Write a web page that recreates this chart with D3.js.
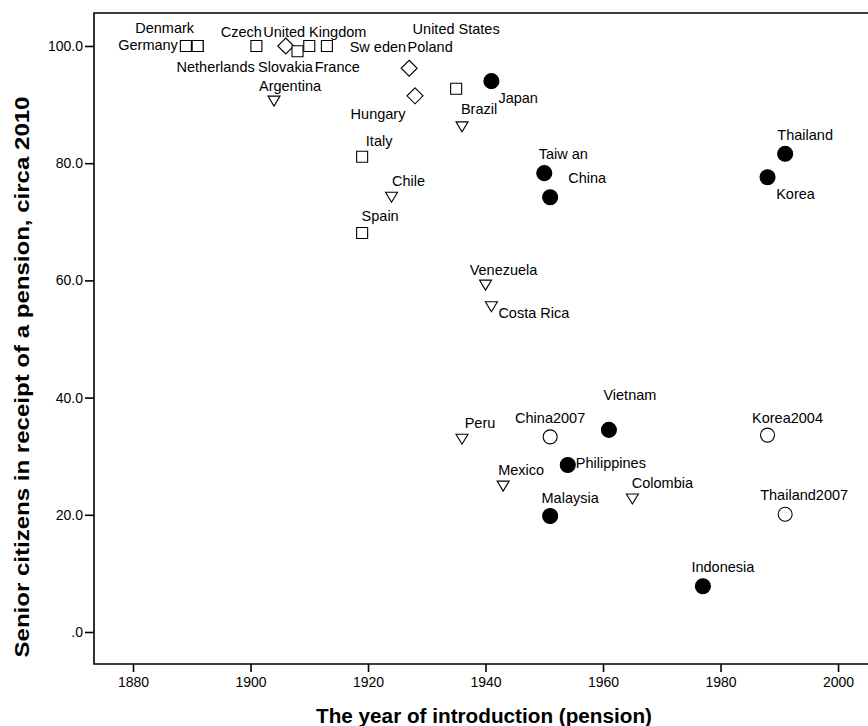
<!DOCTYPE html>
<html>
<head>
<meta charset="utf-8">
<script src="https://cdn.jsdelivr.net/npm/d3@7"></script>
<style>
  html, body { margin: 0; padding: 0; background: #fff; }
  svg { display: block; }
  text { font-family: "Liberation Sans", Arial, sans-serif; fill: #000; }
</style>
</head>
<body>
<svg id="chart" width="868" height="726"></svg>
<script>
// Pension coverage vs. year the pension was introduced
const countries = ["Germany","Denmark","Netherlands","Czech","United Kingdom","Slovakia","France","Sw eden",
  "Poland","Hungary","United States","Japan","Argentina","Brazil","Italy","Chile","Spain",
  "Taiw an","China","Thailand","Korea","Venezuela","Costa Rica","Vietnam","Peru","China2007",
  "Korea2004","Philippines","Mexico","Colombia","Malaysia","Thailand2007","Indonesia"];
const years = [1889,1891,1891,1901,1906,1908,1910,1913,
  1927,1928,1935,1941,1904,1936,1919,1924,1919,
  1950,1951,1991,1988,1940,1941,1961,1936,1951,
  1988,1954,1943,1965,1951,1991,1977];
const coverage = [100,100,100,100,100,99.1,100,100,
  96.2,91.5,92.7,94.0,90.6,86.2,81.1,74.2,68.1,
  78.3,74.2,81.6,77.6,59.2,55.5,34.5,32.9,33.3,
  33.6,28.5,24.9,22.7,19.8,20.1,7.8];
const groups = ["west","west","west","west","east","west","west","west",
  "east","east","west","asia","latam","latam","west","latam","west",
  "asia","asia","asia","asia","latam","latam","asia","latam","asiaOld",
  "asiaOld","asia","latam","latam","asia","asiaOld","asia"];
const xTicks = [1880,1900,1920,1940,1960,1980,2000];
const yTicks = [0,20,40,60,80,100];

// label offsets from each marker (px) and text anchor
const labelPlace = {
  "Germany":[-8,-1,"end"], "Denmark":[-33,-18,"middle"], "Netherlands":[18,21,"middle"],
  "Czech":[-15,-14,"middle"], "United Kingdom":[29,-14,"middle"], "Slovakia":[-12,16,"middle"],
  "France":[28,21,"middle"], "Sw eden":[51,1,"middle"], "Poland":[21,-21,"middle"],
  "Hungary":[-37,18,"middle"], "United States":[0,-60,"middle"], "Japan":[7,17,"start"],
  "Argentina":[16,-15,"middle"], "Brazil":[17,-18,"middle"], "Italy":[17,-16,"middle"],
  "Chile":[17,-16,"middle"], "Spain":[18,-17,"middle"], "Taiw an":[19,-19,"middle"],
  "China":[37,-19,"middle"], "Thailand":[20,-19,"middle"], "Korea":[28,17,"middle"],
  "Venezuela":[18,-15,"middle"], "Costa Rica":[7,6,"start"], "Vietnam":[21,-35,"middle"],
  "Peru":[18,-16,"middle"], "China2007":[0,-19,"middle"], "Korea2004":[20,-17,"middle"],
  "Philippines":[8,-2,"start"], "Mexico":[18,-16,"middle"], "Colombia":[30,-16,"middle"],
  "Malaysia":[20,-18,"middle"], "Thailand2007":[19,-19,"middle"], "Indonesia":[20,-19,"middle"]
};

const svg = d3.select("#chart");
const plotL = 94, plotR = 868, plotT = 13, plotB = 664;

const x = d3.scaleLinear().domain([1873.36, 2005.1]).range([plotL, plotR]);
const y = d3.scaleLinear().domain([-5.46, 105.63]).range([plotB, plotT]);

// frame (open on the right)
svg.append("path")
  .attr("d", `M${plotR},${plotT}H${plotL}V${plotB}H${plotR}`)
  .attr("fill", "none").attr("stroke", "#000").attr("stroke-width", 1.6);

// axes
const xAxis = svg.append("g").attr("transform", `translate(0,${plotB})`)
  .call(d3.axisBottom(x).tickValues(xTicks).tickFormat(d3.format("d")).tickSize(8).tickPadding(5));
const yAxis = svg.append("g").attr("transform", `translate(${plotL},0)`)
  .call(d3.axisLeft(y).tickValues(yTicks).tickFormat(d => d === 0 ? ".0" : d3.format(".1f")(d)).tickSize(9).tickPadding(2));
[xAxis, yAxis].forEach(g => {
  g.select(".domain").remove();
  g.selectAll(".tick line").attr("stroke", "#000").attr("stroke-width", 1.6);
  g.selectAll(".tick text").attr("font-size", 14).attr("font-family", "Liberation Sans, Arial, sans-serif").attr("fill", "#000");
});

// axis titles
svg.append("text")
  .attr("x", 484).attr("y", 716).attr("dy", "0.35em")
  .attr("text-anchor", "middle").attr("font-size", 20).attr("font-weight", "bold")
  .attr("textLength", 336).attr("lengthAdjust", "spacingAndGlyphs")
  .text("The year of introduction (pension)");
svg.append("text")
  .attr("transform", "translate(22,377) rotate(-90)").attr("dy", "0.35em")
  .attr("text-anchor", "middle").attr("font-size", 20).attr("font-weight", "bold")
  .attr("textLength", 561).attr("lengthAdjust", "spacingAndGlyphs")
  .text("Senior citizens in receipt of a pension, circa 2010");

// markers
const rows = countries.map((c, i) => ({ name: c, year: years[i], value: coverage[i], group: groups[i] }));

const marker = {
  west:   { path: "M-5.5,-5.5H5.5V5.5H-5.5Z", fill: "#fff" },
  east:   { path: "M0,-8L8,0L0,8L-8,0Z", fill: "#fff" },
  latam:  { path: "M-6,-5L6,-5L0,5Z", fill: "#fff" },
  asia:   { path: d3.symbol(d3.symbolCircle, Math.PI * 7.5 * 7.5)(), fill: "#000" },
  asiaOld:{ path: d3.symbol(d3.symbolCircle, Math.PI * 7 * 7)(), fill: "#fff" }
};

const pts = svg.append("g");
pts.selectAll("path").data(rows).join("path")
  .attr("transform", d => `translate(${x(d.year)},${y(d.value)})`)
  .attr("d", d => marker[d.group].path)
  .attr("fill", d => marker[d.group].fill)
  .attr("stroke", "#000").attr("stroke-width", 1.1);

// point labels
svg.append("g").selectAll("text").data(rows).join("text")
  .attr("x", d => x(d.year) + labelPlace[d.name][0])
  .attr("y", d => y(d.value) + labelPlace[d.name][1])
  .attr("dy", "0.35em")
  .attr("text-anchor", d => labelPlace[d.name][2])
  .attr("font-size", 14.5)
  .text(d => d.name);
</script>
</body>
</html>
